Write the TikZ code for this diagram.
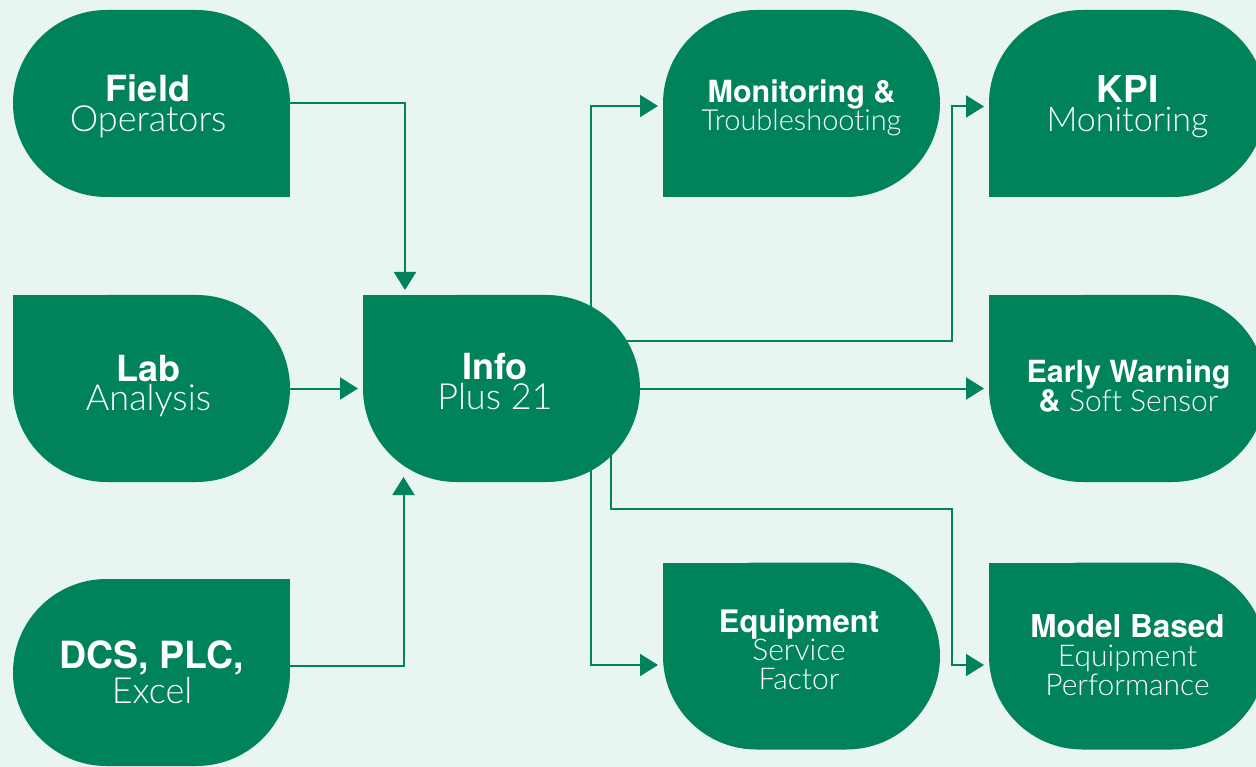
\documentclass[tikz,border=0pt]{standalone}
\usepackage{fontspec}
\setmainfont{TeX Gyre Heros}
\IfFontExistsTF{Lato Light}{\newfontfamily\lgt[Ligatures={NoCommon}]{Lato Light}}{\newfontfamily\lgt{Liberation Sans}}
\usetikzlibrary{arrows.meta,backgrounds}
\definecolor{grn}{RGB}{0,131,90}
\definecolor{bgc}{RGB}{232,245,240}
\newcommand\stk[2]{\vbox{\baselineskip=#1pt\lineskiplimit=-1000pt\tabskip=0pt\halign{\hfil##\hfil\cr#2\crcr}}}
\newcommand\hb[2]{{\bfseries\fontsize{#1}{#1}\selectfont #2}}
\newcommand\hl[2]{{\lgt\fontsize{#1}{#1}\selectfont #2}}
\begin{document}
\begin{tikzpicture}[x=1pt,y=-1pt,
  shp/.style={rectangle, fill=grn, rounded corners=93.5pt, minimum width=277pt,
    minimum height=187pt, inner sep=0pt, outer sep=0pt},
  sq/.style={fill=grn},
  txt/.style={text=white, inner sep=0pt, anchor=base},
  arr/.style={draw=grn, line width=2pt, -{Triangle[length=18pt,width=22pt]}, shorten >=5pt},
]
\useasboundingbox (0,0) rectangle (1256,767);

% shapes
\node[shp] (field) at (151.5,103.5) {};
\fill[sq] (field.center) rectangle (field.south east);
\node[shp] (lab) at (151.5,388.5) {};
\fill[sq] (lab.center) rectangle (lab.north west);
\node[shp] (dcs) at (151.5,672.5) {};
\fill[sq] (dcs.center) rectangle (dcs.north east);
\node[shp] (info) at (501.5,388.5) {};
\fill[sq] (info.center) rectangle (info.north west);
\node[shp] (mon) at (801.5,103.5) {};
\fill[sq] (mon.center) rectangle (mon.south west);
\node[shp] (kpi) at (1127.5,103.5) {};
\fill[sq] (kpi.center) rectangle (kpi.south west);
\node[shp] (early) at (1127.5,388.5) {};
\fill[sq] (early.center) rectangle (early.north west);
\node[shp] (equip) at (801.5,656) {};
\fill[sq] (equip.center) rectangle (equip.north west);
\node[shp] (model) at (1127.5,656) {};
\fill[sq] (model.center) rectangle (model.north west);

% texts (anchor = baseline of last line)
\node[txt] (fieldt) at (148,132) {\stk{30}{\hb{36}{Field}\cr\hl{36}{Operators}}};
\node[txt] (labt) at (148.5,410) {\stk{29}{\hb{36}{Lab}\cr\hl{36}{Analysis}}};
\node[txt] (dcst) at (152,703) {\stk{35}{\hb{37.5}{DCS, PLC,}\cr\hl{36}{Excel}}};
\node[txt] (infot) at (495,409) {\stk{29}{\hb{36}{Info}\cr\hl{36}{Plus 21}}};
\node[txt] (mont) at (801.5,131) {\stk{28}{\hb{30.5}{Monitoring \&}\cr\hl{29}{Troubleshooting}}};
\node[txt] (kpit) at (1127.5,132) {\stk{29}{\hb{37}{KPI}\cr\hl{34}{Monitoring}}};
\node[txt] (earlyt) at (1128.5,411) {\stk{29}{\hb{30.5}{Early Warning}\cr\hb{30.5}{\& }\hl{30}{Soft Sensor}}};
\node[txt] (equipt) at (799,689) {\stk{28.5}{\hb{31}{Equipment}\cr\hl{30}{Service}\cr\hl{30}{Factor}}};
\node[txt] (modelt) at (1127.5,695) {\stk{29}{\hb{31.5}{Model Based}\cr\hl{30}{Equipment}\cr\hl{30}{Performance}}};

\begin{pgfonlayer}{background}
\fill[bgc] (0,0) rectangle (1256,767);
% inputs
\draw[arr] ([yshift=0.5pt]field.east) -| ([xshift=-96.5pt]info.north);
\draw[arr] (lab.east) -- (info.west);
\draw[arr, shorten >=0pt] ([yshift=6.5pt]dcs.east) -| ([xshift=-98pt,yshift=5pt]info.south);
% outputs
\draw[arr] ([xshift=89.5pt]info.center) |- ([yshift=-2.5pt]mon.west);
\draw[arr] ([yshift=47pt]info.center) -| ([xshift=-37pt,yshift=-3pt]kpi.west) -- ([yshift=-3pt]kpi.west);
\draw[arr] (info.east) -- (early.west);
\draw[arr] ([xshift=89.5pt]info.center) |- ([yshift=-9pt]equip.west);
\draw[arr] ([xshift=109.5pt]info.center) |- (952,509) |- ([yshift=-9pt]model.west);
\end{pgfonlayer}
\end{tikzpicture}
\end{document}
